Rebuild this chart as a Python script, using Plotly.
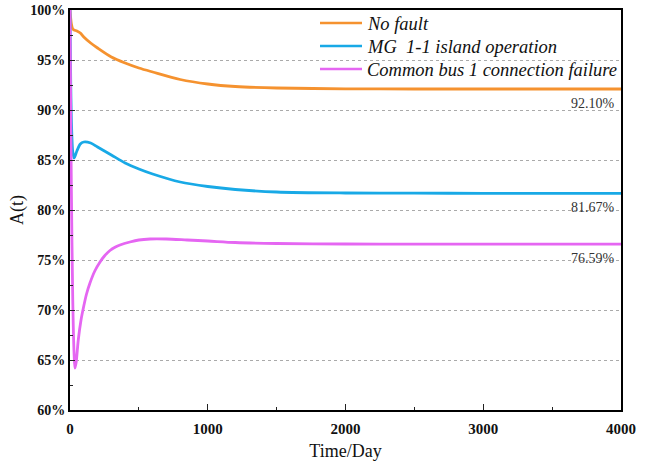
import plotly.graph_objects as go

# Time (days) and availability A(t) in %
t_nofault = [0, 5, 10, 20, 30, 50, 75, 100, 150, 200, 300, 400, 500, 600, 800, 1000, 1200, 1500, 2000, 2500, 3000, 3500, 4000]
a_nofault = [100, 99.2, 98.6, 98.1, 98.0, 97.9, 97.7, 97.3, 96.7, 96.2, 95.3, 94.7, 94.2, 93.8, 93.05, 92.6, 92.35, 92.2, 92.12, 92.10, 92.10, 92.10, 92.10]

t_island = [0, 5, 10, 20, 30, 50, 75, 100, 150, 200, 300, 400, 500, 600, 800, 1000, 1200, 1500, 2000, 2500, 3000, 3500, 4000]
a_island = [100, 93.0, 89.0, 85.8, 85.2, 85.9, 86.6, 86.8, 86.7, 86.3, 85.5, 84.7, 84.1, 83.6, 82.8, 82.35, 82.05, 81.8, 81.7, 81.68, 81.67, 81.67, 81.67]

t_bus = [0, 5, 10, 20, 30, 36, 45, 60, 80, 100, 120, 145, 180, 218, 250, 290, 330, 363, 435, 500, 581, 700, 850, 1000, 1200, 1500, 2000, 2500, 3000, 3500, 4000]
a_bus = [100, 90.0, 82.0, 71.0, 65.5, 64.2, 64.8, 67.0, 69.0, 70.4, 71.6, 72.7, 73.9, 74.8, 75.4, 75.95, 76.3, 76.5, 76.8, 77.0, 77.1, 77.1, 77.0, 76.9, 76.75, 76.65, 76.6, 76.59, 76.59, 76.59, 76.59]

series_names = ["No fault", "MG\u00a0 1-1 island operation", "Common bus 1 connection failure"]
series_colors = ["#F5922F", "#18A9E6", "#E566F2"]
final_values = [92.10, 81.67, 76.59]
final_labels = ["92.10%", "81.67%", "76.59%"]

y_ticks = [60, 65, 70, 75, 80, 85, 90, 95, 100]
y_ticktext = ["60%", "65%", "70%", "75%", "80%", "85%", "90%", "95%", "100%"]
x_ticks = [0, 1000, 2000, 3000, 4000]

serif = "Liberation Serif, Times New Roman, serif"

# page geometry (body margin removed via post_script)
W, H = 660, 461
PL, PR, PT, PB = 70, 621, 10, 410   # plot area edges in page pixels
L, T = PL, PT
R, B = W - PR, H - PB
pw, ph = PR - PL, PB - PT

def px_to_paper(px, py):
    return (px - PL) / pw, (PB - py) / ph

fig = go.Figure()
for (tx, ay), name, col in zip([(t_nofault, a_nofault), (t_island, a_island), (t_bus, a_bus)], series_names, series_colors):
    fig.add_trace(go.Scatter(x=tx, y=ay, mode="lines", name=name, showlegend=False,
                             line=dict(color=col, width=2.8, shape="spline", smoothing=0.8)))

for v, lab in zip(final_values, final_labels):
    fig.add_annotation(x=3970, y=v - 1.4, xref="x", yref="y", text=lab, showarrow=False,
                       xanchor="right", yanchor="middle",
                       font=dict(family=serif, size=14, color="#333333"))

# legend (drawn as line shapes + text)
for i, (name, col) in enumerate(zip(series_names, series_colors)):
    py = 23 + 23 * i
    x0, y0 = px_to_paper(320, py)
    x1, _ = px_to_paper(362, py)
    xt, yt = px_to_paper(365, py + 1)
    fig.add_shape(type="line", xref="paper", yref="paper", x0=x0, x1=x1, y0=y0, y1=y0,
                  line=dict(color=col, width=2.5))
    fig.add_annotation(x=xt, y=yt, xref="paper", yref="paper",
                       text=name, showarrow=False, xanchor="left", yanchor="middle",
                       font=dict(family=serif, size=18.5, color="#111111", style="italic"))

fig.update_layout(
    width=W, height=H,
    margin=dict(l=L, r=R, t=T, b=B),
    paper_bgcolor="white", plot_bgcolor="white",
    showlegend=False,
    xaxis=dict(range=[0, 4000], tickvals=x_ticks, showgrid=False, zeroline=False, automargin=False,
               showline=True, linecolor="black", linewidth=1.8, mirror=True,
               ticks="inside", ticklen=6, tickwidth=1.2, tickcolor="#222",
               minor=dict(dtick=500, ticks="inside", ticklen=3, tickcolor="#222", showgrid=False),
               tickfont=dict(family=serif, size=15, color="#111", weight="bold"),
               ticklabelstandoff=4, ticklabeloverflow="allow",
               title=dict(text="Time/Day", font=dict(family=serif, size=18, color="#111"), standoff=8)),
    yaxis=dict(range=[60, 100], tickvals=y_ticks, ticktext=y_ticktext, zeroline=False, automargin=False,
               showgrid=True, gridcolor="#AAAAAA", griddash="dot", gridwidth=1,
               showline=True, linecolor="black", linewidth=1.8, mirror=True,
               ticks="inside", ticklen=5, tickwidth=1.2, tickcolor="#222",
               minor=dict(dtick=2.5, ticks="inside", ticklen=3, tickcolor="#222", showgrid=False),
               tickfont=dict(family=serif, size=14, color="#111", weight="bold"),
               ticklabeloverflow="allow",
               title=dict(text="A(t)", font=dict(family=serif, size=18, color="#111"), standoff=2)),
)

fig.write_html("out.html", config={"displayModeBar": False},
               post_script="document.body.style.margin='0';")
